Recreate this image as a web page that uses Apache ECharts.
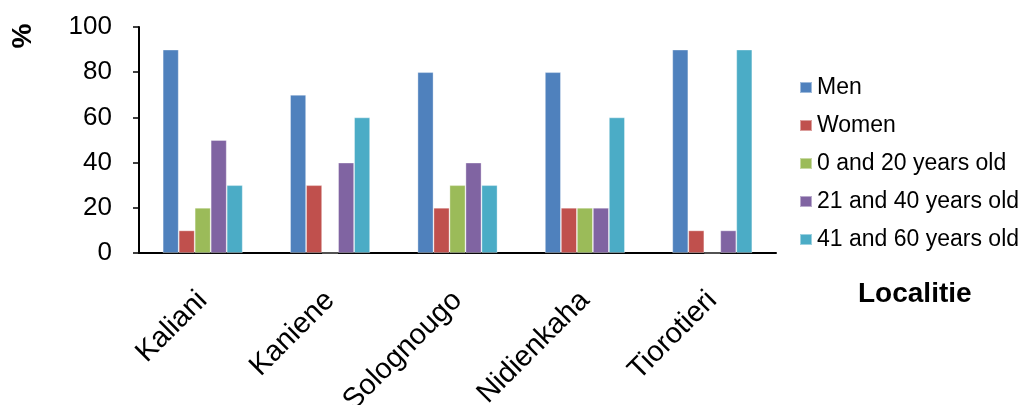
<!DOCTYPE html>
<html>
<head>
<meta charset="utf-8">
<script src="https://cdn.jsdelivr.net/npm/echarts@6/dist/echarts.min.js"></script>
<style>html,body{margin:0;padding:0;background:#fff}#c{width:1024px;height:405px}</style>
</head>
<body>
<div id="c"></div>
<script>
const categories = ['Kaliani', 'Kaniene', 'Solognougo', 'Nidienkaha', 'Tiorotieri'];
const seriesNames = ['Men', 'Women', '0 and 20 years old', '21 and 40 years old', '41 and 60 years old'];
const men = [90, 70, 80, 80, 90];
const women = [10, 30, 20, 20, 10];
const age0to20 = [20, 0, 30, 20, 0];
const age21to40 = [50, 40, 40, 20, 10];
const age41to60 = [30, 60, 30, 60, 90];
const yTicks = [0, 20, 40, 60, 80, 100];

const colors = ['#4F81BD', '#C0504D', '#9BBB59', '#8064A2', '#4BACC6'];
const values = [men, women, age0to20, age21to40, age41to60];
const FONT = '"Liberation Sans", Arial, sans-serif';

const chart = echarts.init(document.getElementById('c'));
chart.setOption({
  animation: false,
  color: colors,
  textStyle: { fontFamily: FONT, color: '#000' },
  grid: { left: 139, right: 248, top: 27, bottom: 152, containLabel: false, outerBoundsMode: 'none' },
  legend: {
    orient: 'vertical',
    left: 794,
    top: 71,
    icon: 'rect',
    itemWidth: 12,
    itemHeight: 11,
    itemGap: 15,
    textStyle: { fontFamily: FONT, fontSize: 23, color: '#000', lineHeight: 22 },
    data: seriesNames
  },
  title: {
    text: 'Localitie',
    left: 853,
    top: 275,
    textStyle: { fontFamily: FONT, fontSize: 28, fontWeight: 'bold', color: '#000' }
  },
  graphic: [{
    type: 'text',
    x: 23,
    y: 36,
    rotation: Math.PI / 2,
    style: { text: '%', fontFamily: FONT, fontSize: 28, fontWeight: 'bold', fill: '#000', align: 'center', verticalAlign: 'middle' }
  }],
  xAxis: {
    type: 'category',
    data: categories,
    axisLine: { lineStyle: { color: '#000', width: 2 } },
    axisTick: { show: false },
    axisLabel: { rotate: 45, margin: 43, fontSize: 29, color: '#000', fontFamily: FONT, interval: 0 },
    splitLine: { show: false }
  },
  yAxis: {
    type: 'value',
    min: yTicks[0],
    max: yTicks[yTicks.length - 1],
    interval: 20,
    axisLine: { show: true, lineStyle: { color: '#000', width: 2 } },
    axisTick: { show: true, length: 6, lineStyle: { color: '#000', width: 1.5 } },
    axisLabel: { fontSize: 26, color: '#000', margin: 27, fontFamily: FONT },
    splitLine: { show: false }
  },
  series: seriesNames.map((n, i) => ({
    name: n,
    type: 'bar',
    data: values[i],
    barWidth: 16,
    barGap: '0%',
    itemStyle: { color: colors[i], borderColor: 'rgba(255,255,255,0.45)', borderWidth: 0.8 }
  }))
});
</script>
</body>
</html>
